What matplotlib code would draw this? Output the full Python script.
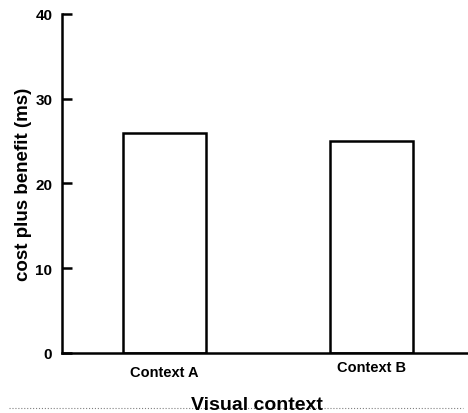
import matplotlib.pyplot as plt
import numpy as np

plt.rcParams['font.family'] = ['Liberation Sans', 'DejaVu Sans']

categories = ['Context A', 'Context B']
values = [26, 25]
yticks = [0, 10, 20, 30, 40]

fig = plt.figure(figsize=(4.68, 4.14), dpi=100)
ax = fig.add_axes([0.1325, 0.145, 0.8675, 0.819])

x = np.arange(len(categories))
ax.bar(x, values, width=0.4, facecolor='white', edgecolor='black', linewidth=1.8)

ax.set_xlim(-0.494, 1.463)
ax.set_ylim(0, 40)
ax.set_yticks(yticks)
ax.set_yticklabels([str(t) for t in yticks], fontsize=11, fontweight='bold')
ax.tick_params(axis='y', direction='in', length=7, width=1.8, pad=7)
ax.set_xticks([])

for s in ['top', 'right']:
    ax.spines[s].set_visible(False)
for s in ['left', 'bottom']:
    ax.spines[s].set_linewidth(1.8)

ax.set_ylabel('cost plus benefit (ms)', fontsize=13.5, fontweight='bold')
ax.yaxis.set_label_coords(-0.073, 0.5)

# category labels (B sits a bit higher than A in the original)
offsets = [-0.057, -0.04]
for xi, lab, off in zip(x, categories, offsets):
    ax.text(xi, off, lab, transform=ax.get_xaxis_transform(), ha='center', va='center',
            fontsize=10.5, fontweight='bold')

# axis title at the bottom, partly clipped, with a dotted rule
fig.text(0.55, 0.01, 'Visual context', ha='center', va='baseline', fontsize=14, fontweight='bold')
fig.add_artist(plt.Line2D([0.02, 0.99], [0.012, 0.012], color='0.5', lw=0.8, ls=':'))

fig.savefig('out.png', dpi=100)
